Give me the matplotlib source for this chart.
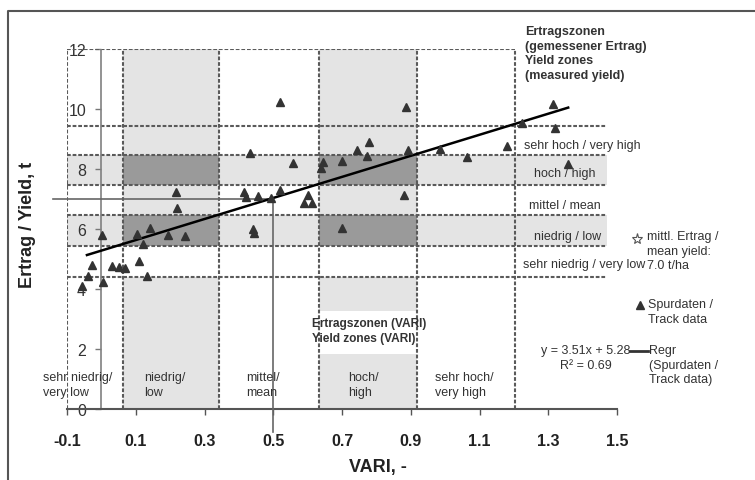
import numpy as np
import matplotlib
matplotlib.use("Agg")
import matplotlib.pyplot as plt
from matplotlib.patches import Rectangle
from matplotlib.lines import Line2D

plt.rcParams['font.family'] = ['Liberation Sans', 'DejaVu Sans']

# track data (VARI, yield t)
vari = [-0.057, -0.040, -0.026, 0.005, 0.001, 0.030, 0.050, 0.069, 0.105, 0.109,
        0.120, 0.133, 0.140, 0.194, 0.218, 0.221, 0.243, 0.416, 0.421, 0.433,
        0.440, 0.444, 0.455, 0.492, 0.520, 0.521, 0.558, 0.588, 0.600, 0.614,
        0.638, 0.644, 0.701, 0.701, 0.743, 0.773, 0.778, 0.880, 0.886, 0.893,
        0.986, 1.063, 1.179, 1.223, 1.314, 1.319, 1.356]
yld = [4.11, 4.42, 4.80, 4.24, 5.80, 4.76, 4.73, 4.69, 5.83, 4.94,
       5.50, 4.42, 6.02, 5.80, 7.24, 6.69, 5.77, 7.22, 7.07, 8.52,
       6.00, 5.87, 7.10, 7.04, 10.22, 7.31, 8.20, 6.88, 7.12, 6.88,
       8.04, 8.24, 8.26, 6.02, 8.62, 8.44, 8.90, 7.12, 10.06, 8.63,
       8.67, 8.41, 8.76, 9.55, 10.17, 9.36, 8.17]

reg_slope, reg_icpt = 3.51, 5.28
reg_x = [-0.042, 1.358]

mean_vari, mean_yield = 0.5, 7.0

# zone edges
vari_edges = [-0.1, 0.062, 0.343, 0.633, 0.917, 1.204]
vari_labels = ['sehr niedrig/\nvery low', 'niedrig/\nlow', 'mittel/\nmean',
               'hoch/\nhigh', 'sehr hoch/\nvery high']
yield_edges = [4.4, 5.44, 6.47, 7.47, 8.47, 9.43]
yield_labels = ['sehr niedrig / very low', 'niedrig / low', 'mittel / mean',
                'hoch / high', 'sehr hoch / very high']
band_end = 1.47

fig = plt.figure(figsize=(7.55, 4.81), dpi=100)
ax = fig.add_axes([67 / 755, 71 / 481, 550 / 755, 360 / 481])
ax.set_xlim(-0.1, 1.5)
ax.set_ylim(0, 12)

light = '#e4e4e4'
dark = '#9a9a9a'
zl = dict(color='#5a5a5a', lw=1.5, ls=(0, (1.8, 0.9)), zorder=3)

# vertical (VARI) zones, grey every other
for i in (1, 3):
    ax.add_patch(Rectangle((vari_edges[i], 0), vari_edges[i + 1] - vari_edges[i], 12,
                           fc=light, ec='none', zorder=0))
# horizontal (yield) zones
for i in (1, 3):
    ax.add_patch(Rectangle((vari_edges[0], yield_edges[i]), band_end - vari_edges[0],
                           yield_edges[i + 1] - yield_edges[i], fc=light, ec='none', zorder=0.5))
    for j in (1, 3):
        ax.add_patch(Rectangle((vari_edges[j], yield_edges[i]), vari_edges[j + 1] - vari_edges[j],
                               yield_edges[i + 1] - yield_edges[i], fc=dark, ec='none', zorder=1))
# very low band is white
ax.add_patch(Rectangle((vari_edges[0], yield_edges[0]), band_end - vari_edges[0],
                       yield_edges[1] - yield_edges[0], fc='white', ec='none', zorder=1))
# white box behind VARI zone title
ax.add_patch(Rectangle((vari_edges[3], 1.83), vari_edges[4] - vari_edges[3], 1.44,
                       fc='white', ec='none', zorder=1))

for xe in vari_edges:
    ax.plot([xe, xe], [0, 12], **zl)
ax.plot([vari_edges[0], vari_edges[-1]], [12, 12], **zl)
for ye in yield_edges:
    ax.plot([vari_edges[0], band_end], [ye, ye], **zl)

# y axis at x = 0
ax.plot([0, 0], [0, 12], color='#808080', lw=1.2, zorder=3)
ax.plot([-0.1, 1.5], [0, 0], color='#555555', lw=1.5, zorder=3, clip_on=False)

# mean crosshair
ax.plot([-0.141, mean_vari], [mean_yield, mean_yield], color='#666666', lw=1.2, zorder=3, clip_on=False)
ax.plot([mean_vari, mean_vari], [mean_yield, -0.77], color='#666666', lw=1.2, zorder=3, clip_on=False)

# regression + points
rx = np.array(reg_x)
ax.plot(rx, reg_slope * rx + reg_icpt, color='black', lw=1.8, zorder=4)
ax.plot(vari, yld, ls='none', marker='^', ms=6, color='#333333', zorder=5)

for sp in ax.spines.values():
    sp.set_visible(False)
ax.set_xticks(np.arange(-0.1, 1.51, 0.2))
ax.set_xticklabels(['-0.1', '0.1', '0.3', '0.5', '0.7', '0.9', '1.1', '1.3', '1.5'])
ax.set_yticks(range(0, 13, 2))
ax.tick_params(axis='x', direction='out', length=4, width=1, color='#555555', pad=13,
               labelsize=11.5, labelcolor='#222222')
ax.tick_params(axis='y', direction='out', length=4, width=1, color='#777777', pad=7,
               labelsize=11.5, labelcolor='#333333')
for lb in ax.get_xticklabels() + ax.get_yticklabels():
    lb.set_fontweight('bold')
# move y tick marks to x = 0
ax.yaxis.set_ticks_position('left')
ax.spines['left'].set_position(('data', 0))

ax.set_xlabel('VARI, -', fontsize=13, fontweight='bold', color='#222222', va='center')
ax.xaxis.set_label_coords((378 - 67) / 550, -(468 - 410) / 360)
fig.text(27 / 755, 1 - 225 / 481, 'Ertrag / Yield, t', rotation=90, ha='center', va='center',
         fontsize=13, fontweight='bold', color='#222222')

small = dict(fontsize=9, color='#333333')
label_x = [1.405, 1.355, 1.347, 1.347, 1.399]
label_y = [4.83, 5.77, 6.80, 7.87, 8.80]
for lx, ly, t in zip(label_x, label_y, yield_labels):
    ax.text(lx, ly, t, ha='center', va='center', zorder=6, **small)

vlab_x = [-0.170, 0.124, 0.421, 0.717, 0.971]
for lx, t in zip(vlab_x, vari_labels):
    ax.text(lx, 0.82, t, ha='left', va='center', linespacing=1.25, zorder=6, **small)

ax.text(1.232, 12.8, 'Ertragszonen\n(gemessener Ertrag)\nYield zones\n(measured yield)',
        ha='left', va='top', fontsize=9, fontweight='bold', color='#333333', linespacing=1.3)
ax.text(0.613, 2.62, 'Ertragszonen (VARI)\nYield zones (VARI)', ha='left', va='center',
        fontsize=8.6, fontweight='bold', color='#333333', linespacing=1.25, zorder=6)
ax.text(1.41, 1.72, 'y = %.2fx + %.2f\nR² = 0.69' % (reg_slope, reg_icpt), ha='center',
        va='center', linespacing=1.3, zorder=6, **small)

# legend on the right, in figure pixels
def fx(p):
    return p / 755

def fy(p):
    return 1 - p / 481

fig.add_artist(Line2D([fx(637)], [fy(240)], marker='*', ms=8, mfc='white', mec='#555555', mew=0.8, ls='none'))
fig.text(fx(647), fy(231), 'mittl. Ertrag /\nmean yield:\n7.0 t/ha', ha='left', va='top',
         linespacing=1.3, **small)
fig.add_artist(Line2D([fx(640)], [fy(306)], marker='^', ms=5.5, color='#333333', ls='none'))
fig.text(fx(648), fy(299), 'Spurdaten /\nTrack data', ha='left', va='top', linespacing=1.3, **small)
fig.add_artist(Line2D([fx(630), fx(648)], [fy(352), fy(352)], color='#333333', lw=2))
fig.text(fx(649), fy(345), 'Regr\n(Spurdaten /\nTrack data)', ha='left', va='top',
         linespacing=1.3, **small)

# figure frame
fig.add_artist(Line2D([fx(8), fx(8), 1], [0, fy(12), fy(12)], color='#555555', lw=1.5))

fig.savefig('out.png', dpi=100)
